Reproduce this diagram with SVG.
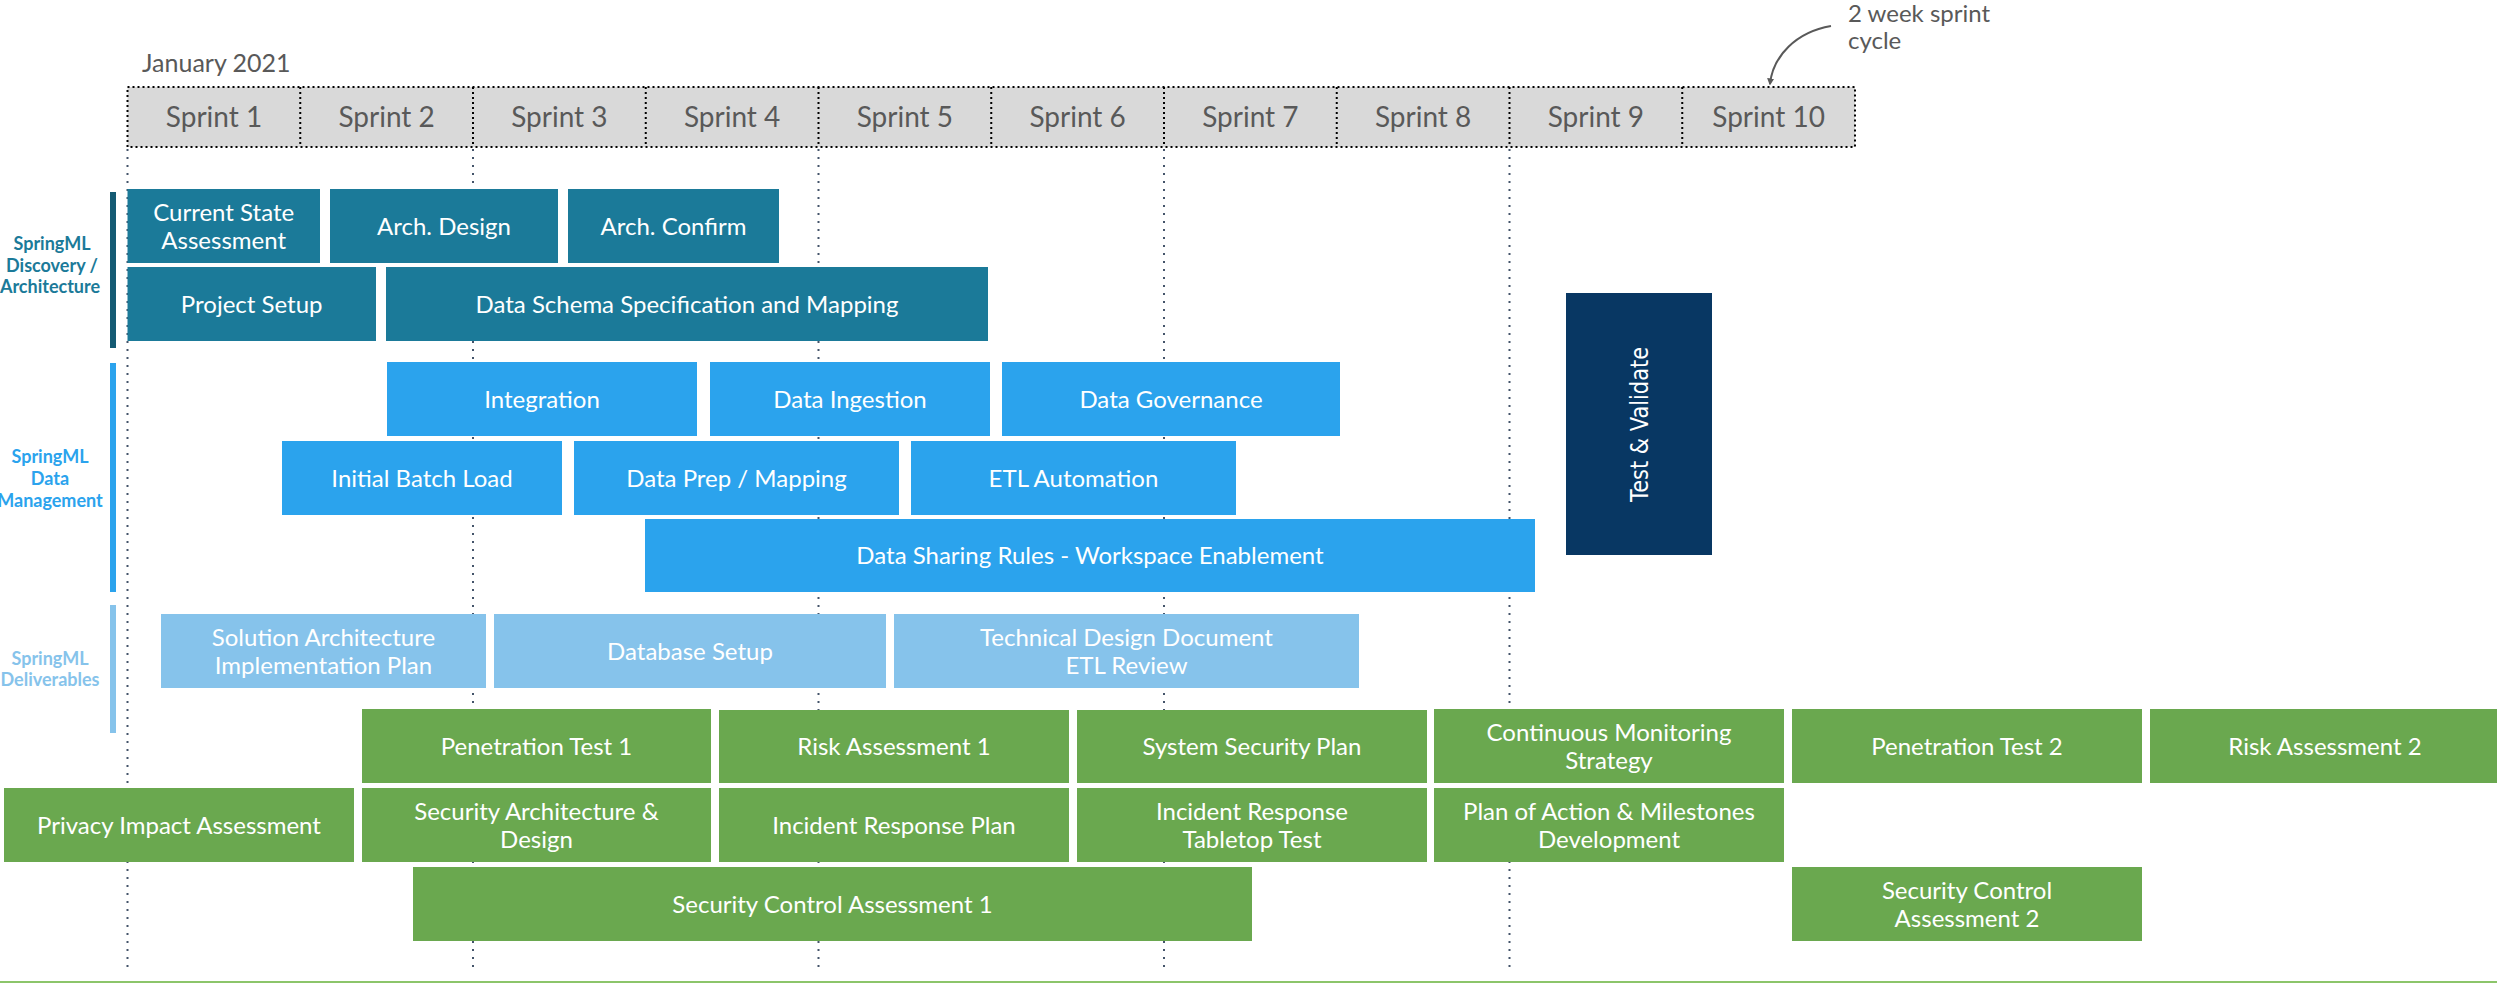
<svg xmlns="http://www.w3.org/2000/svg" width="2497" height="983" viewBox="0 0 2497 983">
<style>
text{font-family:Lato,"Open Sans","Liberation Sans",sans-serif}
.hdr{fill:#d9d9d9;stroke:none}
.dotb{fill:none;stroke:#000;stroke-width:2;stroke-dasharray:2 3}
.grid{stroke:#44546a;stroke-width:2;stroke-dasharray:2 6;fill:none}
.sp{font-size:28px;fill:#595959;text-anchor:middle}
.note{font-size:24px;fill:#595959}
.lbl{font-size:24px;fill:#fff;text-anchor:middle}
.grp{font-size:18px;font-weight:700;text-anchor:middle}
.teal{fill:#1b7a99}
.blue{fill:#2ba3ed}
.lblue{fill:#86c3eb}
.green{fill:#6aa84f}
.navy{fill:#083763}
</style>
<defs>
<marker id="ah" viewBox="0 0 10 10" refX="8" refY="5" markerWidth="7" markerHeight="7" orient="auto" markerUnits="userSpaceOnUse">
<path d="M0,0 L10,5 L0,10 z" fill="#595959"/>
</marker>
</defs>
<rect width="2497" height="983" fill="#fff"/>

<!-- timeline header -->
<g id="timeline">
<text class="note" x="142" y="72" style="font-size:25px">January 2021</text>
<rect class="hdr" x="127.5" y="87" width="1727.5" height="60"/>
<text class="sp" x="214" y="127">Sprint 1</text>
<text class="sp" x="386.6" y="127">Sprint 2</text>
<text class="sp" x="559.4" y="127">Sprint 3</text>
<text class="sp" x="732.1" y="127">Sprint 4</text>
<text class="sp" x="904.9" y="127">Sprint 5</text>
<text class="sp" x="1077.6" y="127">Sprint 6</text>
<text class="sp" x="1250.4" y="127">Sprint 7</text>
<text class="sp" x="1423.1" y="127">Sprint 8</text>
<text class="sp" x="1595.9" y="127">Sprint 9</text>
<text class="sp" x="1768.6" y="127">Sprint 10</text>
<rect class="dotb" x="127.5" y="87" width="1727.5" height="60"/>
<path class="dotb" d="M300.25,87V147 M473,87V147 M645.75,87V147 M818.5,87V147 M991.25,87V147 M1164,87V147 M1336.75,87V147 M1509.5,87V147 M1682.25,87V147"/>
<path class="grid" d="M127.5,149V967 M473,149V967 M818.5,149V967 M1164,149V967 M1509.5,149V967"/>
<text class="note" x="1848" y="22">2 week sprint</text>
<text class="note" x="1848" y="49">cycle</text>
<path id="note-arrow" d="M1831,26 C1796,32 1773,56 1770,84" fill="none" stroke="#595959" stroke-width="2" marker-end="url(#ah)"/>
</g>

<!-- group labels -->
<g id="group-discovery">
<rect x="110" y="192" width="6" height="156" fill="#145a73"/>
<text class="grp" x="52" y="250" fill="#1b7a99">SpringML</text>
<text class="grp" x="52" y="272" fill="#1b7a99">Discovery /</text>
<text class="grp" x="50" y="293" fill="#1b7a99">Architecture</text>
</g>
<g id="group-data">
<rect x="110" y="363" width="6" height="229" fill="#2ba3ed"/>
<text class="grp" x="50" y="463" fill="#2ba3ed">SpringML</text>
<text class="grp" x="50" y="485" fill="#2ba3ed">Data</text>
<text class="grp" x="50" y="507" fill="#2ba3ed">Management</text>
</g>
<g id="group-deliverables">
<rect x="110" y="605" width="6" height="128" fill="#86c3eb"/>
<text class="grp" x="50" y="665" fill="#86c3eb">SpringML</text>
<text class="grp" x="50" y="686" fill="#86c3eb">Deliverables</text>
</g>

<!-- discovery -->
<g id="current-state"><rect class="teal" x="127.5" y="189" width="192.5" height="74"/><text class="lbl" x="223.7" y="221">Current State</text><text class="lbl" x="223.7" y="249">Assessment</text></g>
<g id="arch-design"><rect class="teal" x="330" y="189" width="228" height="74"/><text class="lbl" x="444" y="234.5">Arch. Design</text></g>
<g id="arch-confirm"><rect class="teal" x="568" y="189" width="211" height="74"/><text class="lbl" x="673.5" y="234.5">Arch. Confirm</text></g>
<g id="project-setup"><rect class="teal" x="127.5" y="267" width="248.5" height="74"/><text class="lbl" x="251.7" y="312.5">Project Setup</text></g>
<g id="data-schema"><rect class="teal" x="386" y="267" width="602" height="74"/><text class="lbl" x="687" y="312.5">Data Schema Specification and Mapping</text></g>

<!-- data management -->
<g id="integration"><rect class="blue" x="387" y="362" width="310" height="74"/><text class="lbl" x="542" y="407.5">Integration</text></g>
<g id="data-ingestion"><rect class="blue" x="710" y="362" width="280" height="74"/><text class="lbl" x="850" y="407.5">Data Ingestion</text></g>
<g id="data-governance"><rect class="blue" x="1002" y="362" width="338" height="74"/><text class="lbl" x="1171" y="407.5">Data Governance</text></g>
<g id="initial-batch"><rect class="blue" x="282" y="441" width="280" height="74"/><text class="lbl" x="422" y="486.5">Initial Batch Load</text></g>
<g id="data-prep"><rect class="blue" x="574" y="441" width="325" height="74"/><text class="lbl" x="736.5" y="486.5">Data Prep / Mapping</text></g>
<g id="etl-automation"><rect class="blue" x="911" y="441" width="325" height="74"/><text class="lbl" x="1073.5" y="486.5">ETL Automation</text></g>
<g id="data-sharing"><rect class="blue" x="645" y="519" width="890" height="73"/><text class="lbl" x="1090" y="564">Data Sharing Rules - Workspace Enablement</text></g>

<!-- test & validate -->
<g id="test-validate"><rect class="navy" x="1566" y="293" width="146" height="262"/><text transform="translate(1648,424.5) rotate(-90)" x="0" y="0" textLength="155" lengthAdjust="spacingAndGlyphs" style="font-family:'DejaVu Sans','Liberation Sans',sans-serif;font-size:24px;fill:#fff;text-anchor:middle">Test &amp; Validate</text></g>

<!-- deliverables -->
<g id="solution-arch"><rect class="lblue" x="161" y="614" width="325" height="74"/><text class="lbl" x="323.5" y="645.5">Solution Architecture</text><text class="lbl" x="323.5" y="673.5">Implementation Plan</text></g>
<g id="database-setup"><rect class="lblue" x="494" y="614" width="392" height="74"/><text class="lbl" x="690" y="659.5">Database Setup</text></g>
<g id="tech-design"><rect class="lblue" x="894" y="614" width="465" height="74"/><text class="lbl" x="1126.5" y="645.5">Technical Design Document</text><text class="lbl" x="1126.5" y="673.5">ETL Review</text></g>

<!-- security -->
<g id="pen-test-1"><rect class="green" x="362" y="709" width="349" height="74"/><text class="lbl" x="536.5" y="754.5">Penetration Test 1</text></g>
<g id="risk-1"><rect class="green" x="719" y="710" width="350" height="73"/><text class="lbl" x="894" y="754.5">Risk Assessment 1</text></g>
<g id="ssp"><rect class="green" x="1077" y="710" width="350" height="73"/><text class="lbl" x="1252" y="754.5">System Security Plan</text></g>
<g id="conmon"><rect class="green" x="1434" y="709" width="350" height="74"/><text class="lbl" x="1609" y="740.5">Continuous Monitoring</text><text class="lbl" x="1609" y="768.5">Strategy</text></g>
<g id="pen-test-2"><rect class="green" x="1792" y="709" width="350" height="74"/><text class="lbl" x="1967" y="754.5">Penetration Test 2</text></g>
<g id="risk-2"><rect class="green" x="2150" y="709" width="360" height="74"/><text class="lbl" x="2325" y="754.5">Risk Assessment 2</text></g>
<g id="pia"><rect class="green" x="4" y="788" width="350" height="74"/><text class="lbl" x="179" y="833.5">Privacy Impact Assessment</text></g>
<g id="sec-arch"><rect class="green" x="362" y="788" width="349" height="74"/><text class="lbl" x="536.5" y="819.5">Security Architecture &amp;</text><text class="lbl" x="536.5" y="847.5">Design</text></g>
<g id="irp"><rect class="green" x="719" y="788" width="350" height="74"/><text class="lbl" x="894" y="833.5">Incident Response Plan</text></g>
<g id="ir-tabletop"><rect class="green" x="1077" y="788" width="350" height="74"/><text class="lbl" x="1252" y="819.5">Incident Response</text><text class="lbl" x="1252" y="847.5">Tabletop Test</text></g>
<g id="poam"><rect class="green" x="1434" y="788" width="350" height="74"/><text class="lbl" x="1609" y="819.5">Plan of Action &amp; Milestones</text><text class="lbl" x="1609" y="847.5">Development</text></g>
<g id="sca-1"><rect class="green" x="413" y="867" width="839" height="74"/><text class="lbl" x="832.5" y="912.5">Security Control Assessment 1</text></g>
<g id="sca-2"><rect class="green" x="1792" y="867" width="350" height="74"/><text class="lbl" x="1967" y="898.5">Security Control</text><text class="lbl" x="1967" y="926.5">Assessment 2</text></g>

<line x1="0" y1="982" x2="2497" y2="982" stroke="#8cc56a" stroke-width="2"/>
</svg>
